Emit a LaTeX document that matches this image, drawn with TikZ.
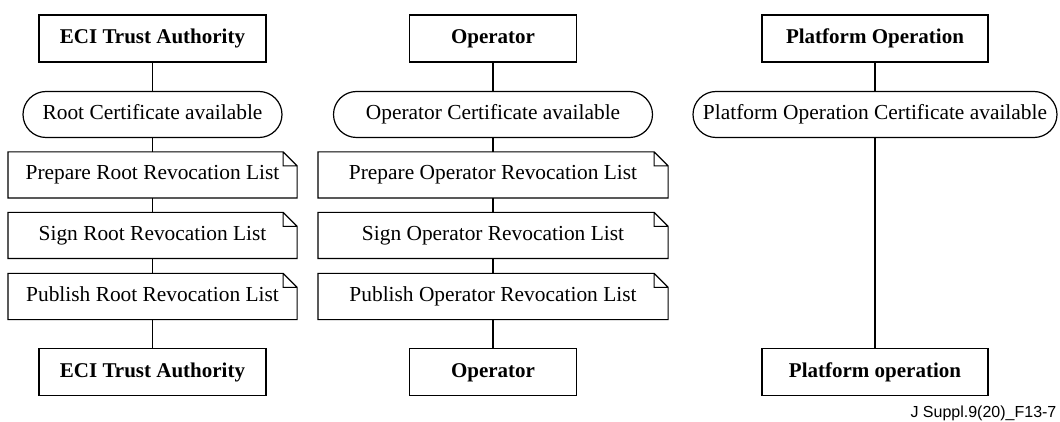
\documentclass[tikz,border=0pt]{standalone}
\usepackage{fontspec}
\setmainfont{Liberation Serif}
\newfontfamily\labelfont{Liberation Sans}
\begin{document}
\begin{tikzpicture}[x=0.5pt, y=-0.5pt, line width=0.6pt,
    font=\fontsize{10.7}{12}\selectfont,
    text height=7.4pt, text depth=2.4pt,
    rolebox/.style={draw, font=\fontsize{10.5}{12}\selectfont\bfseries,
        minimum height=23.5pt},
    certbox/.style={draw, rounded corners=11.5pt, minimum height=23pt},
    notebox/.style={minimum height=22.5pt}]

\useasboundingbox (0,0) rectangle (1060,422);

% ECI trust authority column
    \node[rolebox, minimum width=113.5pt] (eci)   at (152.5,38.5) {ECI Trust Authority};
    \node[certbox, minimum width=129.5pt] (rcert) at (152.5,114.5) {Root Certificate available};
    \node[notebox, minimum width=144pt]   (rprep) at (152.5,175) {Prepare Root Revocation List};
    \node[notebox, minimum width=144pt]   (rsign) at (152.5,235.5) {Sign Root Revocation List};
    \node[notebox, minimum width=144pt]   (rpub)  at (152.5,296.5) {Publish Root Revocation List};
    \node[rolebox, minimum width=113.5pt] (eciend) at (152.5,372) {ECI Trust Authority};

% operator column
    \node[rolebox, minimum width=83.5pt]  (op)    at (493,38.5) {Operator};
    \node[certbox, minimum width=159.5pt] (ocert) at (493,114.5) {Operator Certificate available};
    \node[notebox, minimum width=174.5pt] (oprep) at (493,175) {Prepare Operator Revocation List};
    \node[notebox, minimum width=174.5pt] (osign) at (493,235.5) {Sign Operator Revocation List};
    \node[notebox, minimum width=174.5pt] (opub)  at (493,296.5) {Publish Operator Revocation List};
    \node[rolebox, minimum width=83.5pt]  (opend) at (493,372) {Operator};

% platform operation column
    \node[rolebox, minimum width=113pt] (po)    at (875,38.5) {Platform Operation};
    \node[certbox, minimum width=182pt] (pcert) at (875,114.5) {Platform Operation Certificate available};
    \node[rolebox, minimum width=113pt] (poend) at (875,372) {Platform operation};

% list boxes with folded corner
    \foreach \n in {rprep,rsign,rpub,oprep,osign,opub}
        \draw (\n.north west) -- ([xshift=-7pt]\n.north east)
              -- ([yshift=-7pt]\n.north east) -- (\n.south east)
              -- (\n.south west) -- cycle
              ([xshift=-7pt]\n.north east) |- ([yshift=-7pt]\n.north east);

% lifelines
    \draw (eci) -- (rcert) -- (rprep) -- (rsign) -- (rpub) -- (eciend);
    \draw (op) -- (ocert) -- (oprep) -- (osign) -- (opub) -- (opend);
    \draw (po) -- (pcert) -- (poend);

% figure number
    \node[anchor=base east, inner sep=0pt, text height=, text depth=,
        font=\labelfont\fontsize{8}{9}\selectfont]
        (fignum) at (1057,417) {J Suppl.9(20)\_F13-7};

\end{tikzpicture}
\end{document}
